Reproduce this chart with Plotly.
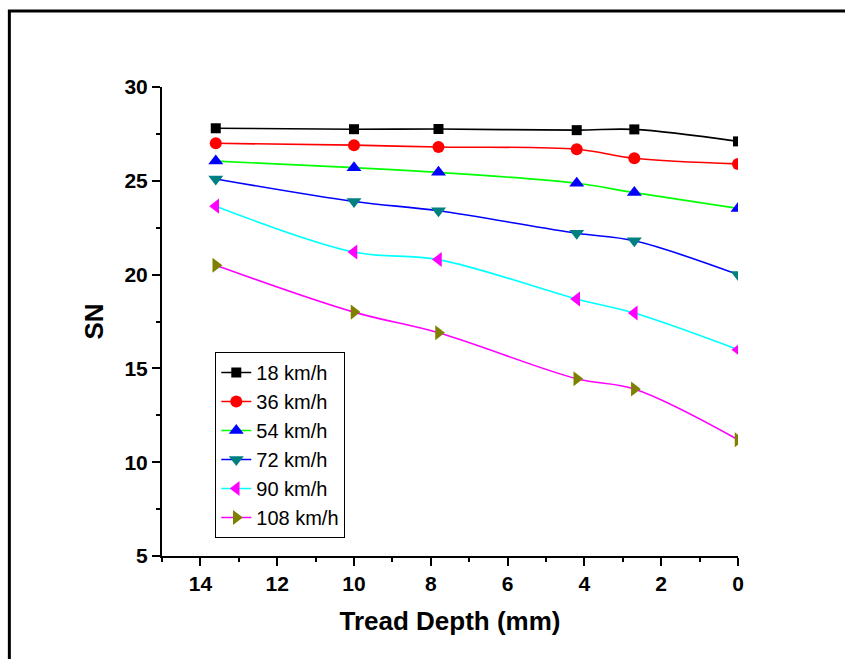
import plotly.graph_objects as go

# Tread depth (mm) at which skid number was measured
depth = [13.6, 10.0, 7.8, 4.2, 2.7, 0.0]

speeds = ["18 km/h", "36 km/h", "54 km/h", "72 km/h", "90 km/h", "108 km/h"]

sn_18 = [27.8, 27.75, 27.76, 27.7, 27.74, 27.1]
sn_36 = [27.0, 26.9, 26.8, 26.68, 26.2, 25.9]
sn_54 = [26.05, 25.7, 25.45, 24.87, 24.37, 23.53]
sn_72 = [25.1, 23.9, 23.4, 22.2, 21.8, 20.0]
sn_90 = [23.65, 21.2, 20.8, 18.7, 17.95, 16.0]
sn_108 = [20.5, 18.0, 16.9, 14.45, 13.9, 11.2]

x_ticks = [0, 2, 4, 6, 8, 10, 12, 14]
y_ticks = [5, 10, 15, 20, 25, 30]

series = [sn_18, sn_36, sn_54, sn_72, sn_90, sn_108]
line_colors = ["#000000", "#ff0000", "#00ff00", "#0000ff", "#00ffff", "#ff00ff"]
marker_colors = ["#000000", "#ff0000", "#0000ff", "#008080", "#ff00ff", "#808000"]
symbols = ["square", "circle", "triangle-up", "triangle-down", "triangle-left", "triangle-right"]
sizes = [10, 12, 13, 13, 13, 13]

fig = go.Figure()
for name, ys, lc, mc, sym, sz in zip(speeds, series, line_colors, marker_colors, symbols, sizes):
    fig.add_trace(go.Scatter(
        x=depth, y=ys, name=name, mode="lines+markers",
        line=dict(color=lc, width=1.6, shape="spline", smoothing=1.0),
        marker=dict(symbol=sym, color=mc, size=sz, line=dict(width=0)),
    ))

axis_font = dict(family="Arial, Liberation Sans", size=21, color="black")
title_font = dict(family="Arial, Liberation Sans", size=26, color="black")

fig.update_xaxes(
    range=[15, 0], tickvals=x_ticks, ticktext=[f"<b>{v}</b>" for v in x_ticks],
    showline=True, linecolor="black", linewidth=2, mirror=False,
    ticks="outside", ticklen=8, tickwidth=2, tickcolor="black",
    minor=dict(tickvals=[1, 3, 5, 7, 9, 11, 13, 15], ticks="outside", ticklen=4, tickwidth=2, tickcolor="black"),
    showgrid=False, zeroline=False, tickfont=axis_font,
    title=dict(text="<b>Tread Depth (mm)</b>", font=title_font, standoff=18),
)
fig.update_yaxes(
    range=[5, 30], tickvals=y_ticks, ticktext=[f"<b>{v}</b>" for v in y_ticks],
    showline=True, linecolor="black", linewidth=2, mirror=False,
    ticks="outside", ticklen=8, tickwidth=2, tickcolor="black",
    minor=dict(tickvals=[7.5, 12.5, 17.5, 22.5, 27.5], ticks="outside", ticklen=4, tickwidth=2, tickcolor="black"),
    showgrid=False, zeroline=False, tickfont=axis_font,
    title=dict(text="<b>SN</b>", font=title_font, standoff=13),
)

# Outer frame around the figure
fig.add_shape(type="rect", xref="paper", yref="paper",
              x0=-0.265, x1=1.3, y0=-0.3, y1=1.162,
              line=dict(color="black", width=3), fillcolor="rgba(0,0,0,0)", layer="below")

fig.update_layout(
    width=845, height=659,
    margin=dict(l=162, r=107, t=87, b=103),
    paper_bgcolor="white", plot_bgcolor="white",
    font=dict(family="Arial, Liberation Sans", color="black"),
    legend=dict(x=0.0925, y=0.435, xanchor="left", yanchor="top",
                bgcolor="white", bordercolor="black", borderwidth=1,
                font=dict(family="Arial, Liberation Sans", size=20, color="black"),
                tracegroupgap=0, itemsizing="trace"),
    showlegend=True,
)

fig.write_html("out.html")
